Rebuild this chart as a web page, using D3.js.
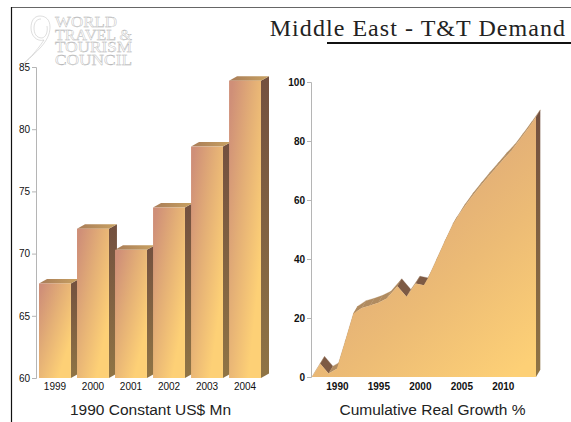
<!DOCTYPE html>
<html>
<head>
<meta charset="utf-8">
<script src="https://cdn.jsdelivr.net/npm/d3@7"></script>
<style>
  html, body { margin: 0; padding: 0; background: #fff; }
  svg { display: block; }
  text { font-family: "Liberation Sans", Arial, sans-serif; }
</style>
</head>
<body>
<div id="chart"></div>
<script>
/* DATA */
const barYears = ["1999", "2000", "2001", "2002", "2003", "2004"];
const barValues = [67.6, 72.0, 70.3, 73.7, 78.6, 83.9];
const barTicks = [60, 65, 70, 75, 80, 85];

// the zigzag around 1997-2000 does not sit on whole years in the picture
const areaYears = [1987, 1988, 1989, 1990, 1991, 1992, 1993, 1994, 1995, 1996, 1997.3, 1998.4, 1999.5, 2000.5, 2001, 2002, 2003, 2004, 2005, 2006, 2007, 2008, 2009, 2010, 2011, 2012, 2013, 2014];
const areaValues = [0, 4.5, 1.2, 2.8, 12, 21.5, 23.4, 24.2, 25.2, 26.6, 30.8, 27.2, 31.7, 31.1, 33.6, 39.7, 45.9, 51.9, 56.3, 60.2, 63.7, 67.1, 70.3, 73.6, 76.6, 80.3, 84.1, 88.1];
const areaTicks = [0, 20, 40, 60, 80, 100];
const areaLabels = [1990, 1995, 2000, 2005, 2010];

const logoLines = ["WORLD", "TRAVEL &", "TOURISM", "COUNCIL"];
const logoWidths = [62, 77, 77, 77];

/* SETUP */
const svg = d3.select("#chart").append("svg")
  .attr("width", 571)
  .attr("height", 422);

const defs = svg.append("defs");

// front of the bars goes pink top-left to yellow bottom-right
const barGrad = defs.append("linearGradient")
  .attr("id", "barFront")
  .attr("x1", 0).attr("y1", 0.12).attr("x2", 0.75).attr("y2", 0.85);
barGrad.append("stop").attr("offset", "0%").attr("stop-color", "#cf8f78");
barGrad.append("stop").attr("offset", "45%").attr("stop-color", "#e3ae76");
barGrad.append("stop").attr("offset", "100%").attr("stop-color", "#fdd076");

const sideGrad = defs.append("linearGradient")
  .attr("id", "barSide")
  .attr("x1", 0).attr("y1", 0).attr("x2", 0).attr("y2", 1);
sideGrad.append("stop").attr("offset", "0%").attr("stop-color", "#73503f");
sideGrad.append("stop").attr("offset", "100%").attr("stop-color", "#8f7445");

const topGrad = defs.append("linearGradient")
  .attr("id", "barTop")
  .attr("x1", 0).attr("y1", 0).attr("x2", 1).attr("y2", 0);
topGrad.append("stop").attr("offset", "0%").attr("stop-color", "#a87c58");
topGrad.append("stop").attr("offset", "100%").attr("stop-color", "#c9a262");

const areaGrad = defs.append("linearGradient")
  .attr("id", "areaFront")
  .attr("gradientUnits", "userSpaceOnUse")
  .attr("x1", 370).attr("y1", 200).attr("x2", 520).attr("y2", 370);
areaGrad.append("stop").attr("offset", "0%").attr("stop-color", "#dda878");
areaGrad.append("stop").attr("offset", "50%").attr("stop-color", "#ecbb75");
areaGrad.append("stop").attr("offset", "100%").attr("stop-color", "#fdd076");

/* PAGE FRAME AND TITLE */
svg.append("line").attr("x1", 11).attr("x2", 571).attr("y1", 7.5).attr("y2", 7.5)
  .attr("stroke", "#666").attr("stroke-width", 1);
svg.append("line").attr("x1", 11.5).attr("x2", 11.5).attr("y1", 7).attr("y2", 422)
  .attr("stroke", "#111").attr("stroke-width", 1.2);

svg.append("text")
  .attr("x", 566).attr("y", 36)
  .attr("text-anchor", "end")
  .style("font-family", "'Liberation Serif', serif")
  .style("font-size", "24px")
  .style("letter-spacing", "1.05px")
  .attr("fill", "#222")
  .text("Middle East - T&T Demand");

svg.append("line").attr("x1", 327).attr("x2", 571).attr("y1", 43).attr("y2", 43)
  .attr("stroke", "#111").attr("stroke-width", 2);

/* LOGO */
const logo = svg.append("g");
logo.append("path")
  .attr("d", "M21 66 C36 52 50 42 50 27 C50 20 46 16 40 16 C34 16 31 21 31 28 C31 36 37 42 44 40 C36 52 28 60 21 66 Z M47 26 C48 32 46 37 42 38 C36 38 34 33 34 28 C34 22 37 19 41 19")
  .attr("fill", "none").attr("stroke", "#bdbdbd").attr("stroke-width", 0.5);

// one text with a tspan per line, the lines sit tight like in the logo
logo.append("text")
  .style("font-family", "'Liberation Serif', serif")
  .style("font-size", "15px")
  .attr("fill", "#fff")
  .attr("stroke", "#aaa")
  .attr("stroke-width", 0.35)
  .selectAll("tspan")
  .data(logoLines)
  .enter()
  .append("tspan")
  .attr("x", 55)
  .attr("y", (d, i) => 27 + i * 12.7)
  .attr("textLength", (d, i) => logoWidths[i])
  .attr("lengthAdjust", "spacingAndGlyphs")
  .text(d => d);

/* LEFT CHART - BARS */
const barX = d3.scaleBand().domain(barYears).range([39, 261]).paddingInner(0.16).paddingOuter(0);
const barY = d3.scaleLinear().domain([60, 85]).range([378, 67]);
const barDepth = {x: 8, y: 4.5};

const bars = svg.append("g").selectAll("g")
  .data(barValues)
  .enter()
  .append("g");

bars.append("path") // side
  .attr("d", (d, i) => {
    const r = barX(barYears[i]) + barX.bandwidth();
    return `M${r} ${barY(d)}L${r + barDepth.x} ${barY(d) - barDepth.y}L${r + barDepth.x} ${barY(60) - barDepth.y}L${r} ${barY(60)}Z`;
  })
  .attr("fill", "url(#barSide)");

bars.append("path") // top
  .attr("d", (d, i) => {
    const l = barX(barYears[i]);
    const r = l + barX.bandwidth();
    return `M${l} ${barY(d)}L${l + barDepth.x} ${barY(d) - barDepth.y}L${r + barDepth.x} ${barY(d) - barDepth.y}L${r} ${barY(d)}Z`;
  })
  .attr("fill", "url(#barTop)");

bars.append("rect") // front
  .attr("x", (d, i) => barX(barYears[i]))
  .attr("y", d => barY(d))
  .attr("width", barX.bandwidth())
  .attr("height", d => barY(60) - barY(d))
  .attr("fill", "url(#barFront)");

const barAxisY = svg.append("g")
  .attr("transform", "translate(36,0)")
  .call(d3.axisLeft(barY).tickValues(barTicks).tickSize(4).tickPadding(2));

const barAxisX = svg.append("g")
  .attr("transform", "translate(0,378)")
  .call(d3.axisBottom(barX).tickSize(0).tickPadding(5));
barAxisX.select(".domain").remove();

svg.append("text")
  .attr("x", 150.5).attr("y", 415)
  .attr("text-anchor", "middle")
  .style("font-size", "15.5px")
  .attr("fill", "#222")
  .text("1990 Constant US$ Mn");

/* RIGHT CHART - AREA */
const areaX = d3.scaleLinear().domain([1987, 2014]).range([312, 536]);
const areaY = d3.scaleLinear().domain([0, 100]).range([377, 82]);
const areaDepth = {x: 4.3, y: 7.3};

// shaded strip behind the front face, one piece per segment
svg.append("g").selectAll("path")
  .data(areaValues.slice(1))
  .enter()
  .append("path")
  .attr("d", (d, i) => {
    const x0 = areaX(areaYears[i]), y0 = areaY(areaValues[i]);
    const x1 = areaX(areaYears[i + 1]), y1 = areaY(d);
    return `M${x0} ${y0}L${x0 + areaDepth.x} ${y0 - areaDepth.y}L${x1 + areaDepth.x} ${y1 - areaDepth.y}L${x1} ${y1}Z`;
  })
  .attr("fill", (d, i) => d >= areaValues[i] ? "#b08b60" : "#7d5a44")
  .attr("stroke", (d, i) => d >= areaValues[i] ? "#b08b60" : "#7d5a44")
  .attr("stroke-width", 0.3);

// right hand wall
const lastVal = areaValues[areaValues.length - 1];
svg.append("path")
  .attr("d", `M${areaX(2014)} ${areaY(lastVal)}L${areaX(2014) + areaDepth.x} ${areaY(lastVal) - areaDepth.y}L${areaX(2014) + areaDepth.x} ${areaY(0) - areaDepth.y}L${areaX(2014)} ${areaY(0)}Z`)
  .attr("fill", "url(#barSide)");

const areaGen = d3.area()
  .x((d, i) => areaX(areaYears[i]))
  .y0(areaY(0))
  .y1(d => areaY(d));

svg.append("path")
  .datum(areaValues)
  .attr("d", areaGen)
  .attr("fill", "url(#areaFront)");

const areaAxisY = svg.append("g")
  .attr("transform", "translate(311,0)")
  .call(d3.axisLeft(areaY).tickValues(areaTicks).tickSize(4).tickPadding(2));

const areaAxisX = svg.append("g")
  .attr("transform", "translate(0,377)")
  .call(d3.axisBottom(areaX).tickValues(areaLabels).tickFormat(d3.format("d")).tickSize(0).tickPadding(6));
areaAxisX.select(".domain").remove();

svg.append("text")
  .attr("x", 432.5).attr("y", 415)
  .attr("text-anchor", "middle")
  .style("font-size", "15.5px")
  .attr("fill", "#222")
  .text("Cumulative Real Growth %");

/* AXIS STYLE */
[barAxisY, areaAxisY].forEach(a => {
  a.select(".domain").attr("stroke", "#b5b5b5");
  a.selectAll(".tick line").attr("stroke", "#b5b5b5");
});
[barAxisY, barAxisX, areaAxisY, areaAxisX].forEach(a => {
  a.selectAll("text")
    .style("font-family", "'Liberation Sans', Arial, sans-serif")
    .style("font-size", "10px")
    .attr("fill", "#111");
});
areaAxisX.selectAll("text").style("font-weight", "bold");
areaAxisY.selectAll("text").style("font-weight", "bold");
</script>
</body>
</html>
